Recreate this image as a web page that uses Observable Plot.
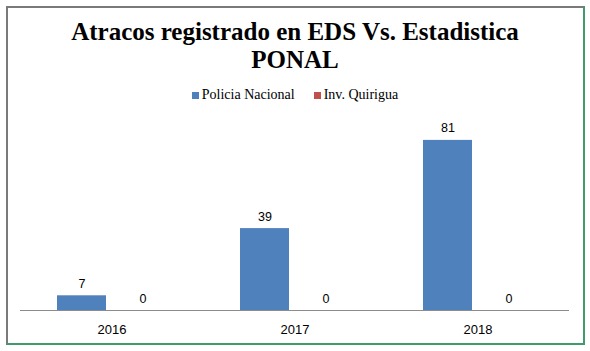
<!DOCTYPE html>
<html>
<head>
<meta charset="utf-8">
<script src="https://cdn.jsdelivr.net/npm/d3@7"></script>
<script src="https://cdn.jsdelivr.net/npm/@observablehq/plot@0.6"></script>
<style>
  html, body { margin: 0; padding: 0; background: #fff; }
  #frame {
    position: absolute; left: 6px; top: 6px; width: 575px; height: 335px;
    border-left: 2px solid #7a7a7a; border-top: 2px solid #7a7a7a;
    border-right: 2px solid #3f9b6c; border-bottom: 2px solid #3f9b6c;
  }
  #title {
    position: absolute; left: 0; top: 18px; width: 590px; text-align: center;
    font-family: "Liberation Serif", serif; font-weight: bold; font-size: 25px;
    line-height: 28px; color: #000;
  }
  #legend {
    position: absolute; left: 0; top: 87px; width: 590px; text-align: center;
    font-family: "Liberation Serif", serif; font-size: 14px; color: #000;
  }
  #legend span.item { margin: 0 9.5px; }
  #legend span.sw { display: inline-block; width: 7px; height: 7px; margin-right: 3px; }
  #chart { position: absolute; left: 0; top: 110px; }
</style>
</head>
<body>
<div id="frame"></div>
<div id="title">Atracos registrado en EDS Vs. Estadistica<br>PONAL</div>
<div id="legend"></div>
<div id="chart"></div>
<script>
const years = ["2016", "2017", "2018"];
const series = ["Policia Nacional", "Inv. Quirigua"];
const colors = ["#4f81bd", "#c0504d"];
const policiaNacional = [7, 39, 81];
const invQuirigua = [0, 0, 0];

const data = [];
years.forEach((yr, i) => {
  data.push({year: yr, series: series[0], value: policiaNacional[i]});
  data.push({year: yr, series: series[1], value: invQuirigua[i]});
});

const legend = document.getElementById("legend");
series.forEach((s, i) => {
  const item = document.createElement("span");
  item.className = "item";
  const sw = document.createElement("span");
  sw.className = "sw";
  sw.style.background = colors[i];
  item.appendChild(sw);
  item.appendChild(document.createTextNode(s));
  legend.appendChild(item);
});

const chart = Plot.plot({
  width: 590,
  height: 235,
  marginLeft: 19,
  marginRight: 21,
  marginTop: 11,
  marginBottom: 35,
  style: {fontFamily: "Liberation Sans, sans-serif", fontSize: "13px", color: "#000", background: "transparent"},
  fx: {domain: years, padding: 0, label: null, axis: "bottom", tickSize: 0, tickPadding: 14},
  x: {domain: series, paddingInner: 0.2, paddingOuter: 0.59, axis: null},
  y: {domain: [0, 90], axis: null},
  color: {domain: series, range: colors},
  marks: [
    Plot.barY(data, {fx: "year", x: "series", y: "value", fill: "series"}),
    Plot.ruleY([0], {stroke: "#8c8c8c", strokeWidth: 1}),
    Plot.text(data, {fx: "year", x: "series", y: "value", text: d => String(d.value), dy: -12, fill: "#000", fontSize: 12.5})
  ]
});
document.getElementById("chart").appendChild(chart);
</script>
</body>
</html>
